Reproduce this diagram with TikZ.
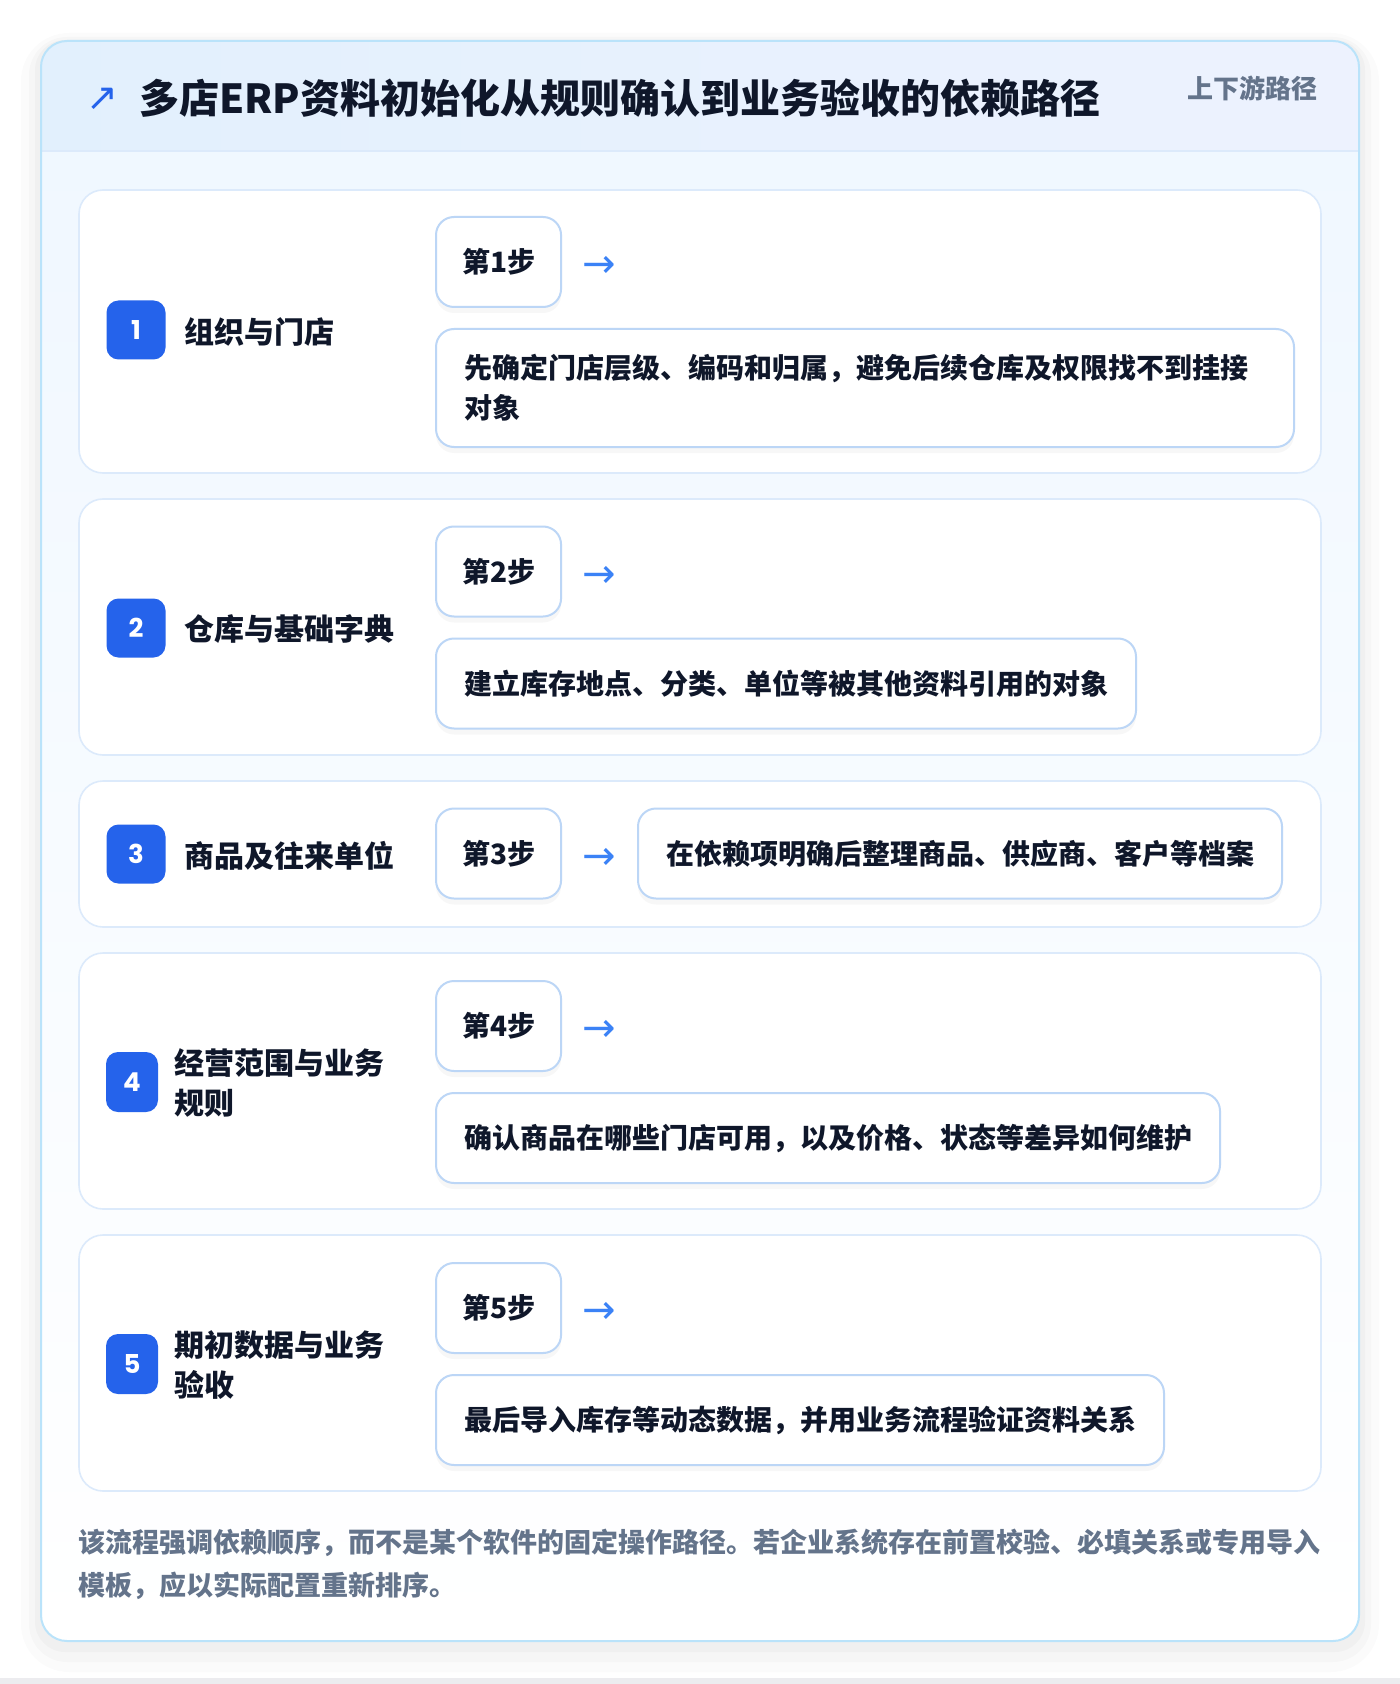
\documentclass[tikz,border=0pt]{standalone}
\usepackage{fontspec}
\setmainfont{Noto Sans CJK SC}
\newfontfamily\heavyfont{Noto Sans CJK SC}[UprightFont=* Black]
\newfontfamily\symfont{DejaVu Sans}
\newfontfamily\numfont{Poppins}
\usetikzlibrary{positioning,shadows}

\definecolor{ink}{HTML}{0F172A}
\definecolor{muted}{HTML}{64748B}
\definecolor{badgeblue}{HTML}{2563EB}
\definecolor{arrowblue}{HTML}{3B82F6}
\definecolor{cardline}{HTML}{BAE3FA}
\definecolor{secline}{HTML}{DCEAFB}
\definecolor{boxline}{HTML}{BCD6F6}
\definecolor{headleft}{HTML}{E2F0FD}
\definecolor{headright}{HTML}{EDF2FE}
\definecolor{bodytop}{HTML}{EFF7FF}
\definecolor{pagegray}{HTML}{ECECEF}

\tikzset{
  secbox/.style={draw=secline, line width=0.8pt, fill=white, rounded corners=12pt},
  stepbox/.style={draw=boxline, line width=1pt, fill=white, rounded corners=9pt,
    minimum height=45pt, inner xsep=13pt, anchor=west, text=ink,
    font=\fontsize{14pt}{20pt}\selectfont\bfseries,
    drop shadow={shadow xshift=0pt, shadow yshift=-3pt, opacity=.06}},
  descbox/.style={stepbox, inner xsep=14pt, align=left},
  badge/.style={fill=badgeblue, rounded corners=6pt, minimum width=29.5pt,
    minimum height=29.5pt, text=white, font=\numfont\fontsize{13pt}{15pt}\selectfont\bfseries},
  seclabel/.style={anchor=west, inner sep=0pt, align=left, text=ink,
    font=\fontsize{15pt}{20pt}\selectfont\bfseries},
  steparrow/.style={text=arrowblue, inner sep=0pt, yshift=-2.5pt,
    font=\symfont\fontsize{20pt}{20pt}\selectfont},
}

\begin{document}
\begin{tikzpicture}[x=0.5pt, y=-0.5pt]
  \useasboundingbox (0,0) rectangle (1400,1684);
  \fill[white] (0,0) rectangle (1400,1684);
  \fill[pagegray] (0,1678) rectangle (1400,1684);

  % card with its soft shadow
  \fill[black, opacity=.015, rounded corners=24pt] (21,33) rectangle (1379,1672);
  \fill[black, opacity=.02, rounded corners=19pt] (29,37) rectangle (1371,1662);
  \fill[black, opacity=.025, rounded corners=15pt] (35,40) rectangle (1365,1652);
  \path[rounded corners=13pt, top color=bodytop, bottom color=white] (41,41) rectangle (1359,1641);
  \begin{scope}
    \clip[rounded corners=13pt] (41,41) rectangle (1359,1641);
    \path[left color=headleft, right color=headright] (41,41) rectangle (1359,151);
    \draw[secline, line width=1pt] (41,151) -- (1359,151);
  \end{scope}
  \draw[cardline, line width=1pt, rounded corners=13pt] (41,41) rectangle (1359,1641);

  % header
  \node[text=badgeblue, font=\symfont\fontsize{19pt}{19pt}\selectfont] (icon) at (102,99) {↗};
  \node[anchor=west, inner sep=0pt, text=ink, font=\heavyfont\fontsize{20pt}{24pt}\selectfont] (ttl) at (139,98)
    {多店ERP资料初始化从规则确认到业务验收的依赖路径};
  \node[anchor=east, inner sep=0pt, text=muted, font=\fontsize{13pt}{16pt}\selectfont\bfseries] (tag) at (1318,88.5) {上下游路径};

  % section frames
  \draw[secbox] (79,190) rectangle (1321,473);
  \draw[secbox] (79,499) rectangle (1321,755);
  \draw[secbox] (79,781) rectangle (1321,927);
  \draw[secbox] (79,953) rectangle (1321,1209);
  \draw[secbox] (79,1235) rectangle (1321,1491);

  % 1
  \node[badge] (n1) at (136,330) {1};
  \node[seclabel] (l1) at (184,332) {组织与门店};
  \node[stepbox] (s1) at (435,262) {第1步};
  \node[steparrow, right=10pt of s1] (a1) {→};
  \node[descbox, text width=401pt, minimum height=59pt, below=10pt of s1.south west, anchor=north west] (d1)
    {先确定门店层级、编码和归属，避免后续仓库及权限找不到挂接\\对象};

  % 2
  \node[badge] (n2) at (136,628) {2};
  \node[seclabel] (l2) at (184,629) {仓库与基础字典};
  \node[stepbox] (s2) at (435,571.5) {第2步};
  \node[steparrow, right=10pt of s2] (a2) {→};
  \node[descbox, below=10pt of s2.south west, anchor=north west] (d2)
    {建立库存地点、分类、单位等被其他资料引用的对象};

  % 3
  \node[badge] (n3) at (136,854) {3};
  \node[seclabel] (l3) at (184,856) {商品及往来单位};
  \node[stepbox] (s3) at (435,853.5) {第3步};
  \node[steparrow, right=10pt of s3] (a3) {→};
  \node[descbox] (d3) at (637,853.5) {在依赖项明确后整理商品、供应商、客户等档案};

  % 4
  \node[badge, minimum width=26pt, minimum height=30pt] (n4) at (132,1082) {4};
  \node[seclabel] (l4) at (174,1083) {经营范围与业务\\规则};
  \node[stepbox] (s4) at (435,1026) {第4步};
  \node[steparrow, right=10pt of s4] (a4) {→};
  \node[descbox, below=10pt of s4.south west, anchor=north west] (d4)
    {确认商品在哪些门店可用，以及价格、状态等差异如何维护};

  % 5
  \node[badge, minimum width=26pt, minimum height=30pt] (n5) at (132,1364) {5};
  \node[seclabel] (l5) at (174,1365) {期初数据与业务\\验收};
  \node[stepbox] (s5) at (435,1308) {第5步};
  \node[steparrow, right=10pt of s5] (a5) {→};
  \node[descbox, below=10pt of s5.south west, anchor=north west] (d5)
    {最后导入库存等动态数据，并用业务流程验证资料关系};

  % footnote
  \node[anchor=west, inner sep=0pt, align=left, text=muted, font=\fontsize{13.5pt}{21.5pt}\selectfont\bfseries] (note) at (78,1564.5)
    {该流程强调依赖顺序，而不是某个软件的固定操作路径。若企业系统存在前置校验、必填关系或专用导入\\模板，应以实际配置重新排序。};
\end{tikzpicture}
\end{document}
